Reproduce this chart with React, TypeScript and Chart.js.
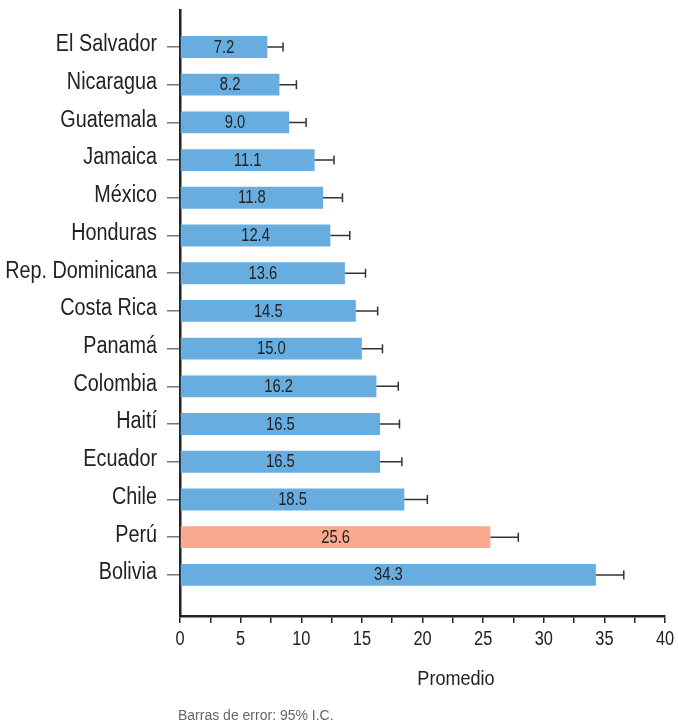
import React, { useEffect, useRef } from "react";
import { Chart, registerables } from "chart.js";

Chart.register(...registerables);

const countries = [
  "El Salvador",
  "Nicaragua",
  "Guatemala",
  "Jamaica",
  "México",
  "Honduras",
  "Rep. Dominicana",
  "Costa Rica",
  "Panamá",
  "Colombia",
  "Haití",
  "Ecuador",
  "Chile",
  "Perú",
  "Bolivia",
];
const values = [7.2, 8.2, 9.0, 11.1, 11.8, 12.4, 13.6, 14.5, 15.0, 16.2, 16.5, 16.5, 18.5, 25.6, 34.3];
const upperCI = [8.5, 9.6, 10.4, 12.7, 13.4, 14.0, 15.3, 16.3, 16.7, 18.0, 18.1, 18.3, 20.4, 27.9, 36.6];
const highlighted = ["Perú"];
const xTickValues = [0, 5, 10, 15, 20, 25, 30, 35, 40];

const BLUE = "#68ADE0";
const SALMON = "#F9AA8E";
const FONT = '"Liberation Sans", Arial, sans-serif';

function drawText(
  ctx: CanvasRenderingContext2D,
  text: string,
  x: number,
  y: number,
  size: number,
  scaleX: number,
  align: CanvasTextAlign,
  baseline: CanvasTextBaseline,
  color: string
) {
  ctx.save();
  ctx.translate(x, y);
  ctx.scale(scaleX, 1);
  ctx.font = `${size}px ${FONT}`;
  ctx.fillStyle = color;
  ctx.textAlign = align;
  ctx.textBaseline = baseline;
  ctx.fillText(text, 0, 0);
  ctx.restore();
}

const overlayPlugin = {
  id: "overlay",
  afterDatasetsDraw(chart: any) {
    const ctx = chart.ctx;
    const meta = chart.getDatasetMeta(0);
    const xScale = chart.scales.x;
    ctx.save();
    ctx.strokeStyle = "#333";
    ctx.lineWidth = 1.5;
    meta.data.forEach((el: any, i: number) => {
      const xEnd = el.x;
      const xHi = xScale.getPixelForValue(upperCI[i]);
      ctx.beginPath();
      ctx.moveTo(xEnd, el.y);
      ctx.lineTo(xHi, el.y);
      ctx.moveTo(xHi, el.y - 4.5);
      ctx.lineTo(xHi, el.y + 4.5);
      ctx.stroke();
    });
    ctx.restore();
    meta.data.forEach((el: any, i: number) => {
      drawText(ctx, values[i].toFixed(1), (el.base + el.x) / 2, el.y + 0.5, 18.5, 0.8, "center", "middle", "#222");
    });
  },
  afterDraw(chart: any) {
    const ctx = chart.ctx;
    const yScale = chart.scales.y;
    const xScale = chart.scales.x;
    countries.forEach((c, i) => {
      drawText(ctx, c, 157, yScale.getPixelForValue(i) - 2, 23, 0.86, "right", "middle", "#222");
    });
    xTickValues.forEach((v) => {
      drawText(ctx, String(v), xScale.getPixelForValue(v), 640, 19.5, 0.84, "center", "middle", "#222");
    });
    drawText(ctx, "Promedio", 456, 685, 21, 0.86, "center", "alphabetic", "#222");
    drawText(ctx, "Barras de error: 95% I.C.", 178, 720, 14, 1, "left", "alphabetic", "#666");
  },
};

export default function App() {
  const canvasRef = useRef<HTMLCanvasElement | null>(null);

  useEffect(() => {
    if (!canvasRef.current) return;
    const chart = new Chart(canvasRef.current, {
      type: "bar",
      data: {
        datasets: [
          {
            data: countries.map((c, i) => ({ x: values[i], y: i })),
            backgroundColor: countries.map((c) => (highlighted.includes(c) ? SALMON : BLUE)),
            borderWidth: 0,
            barPercentage: 0.58,
            categoryPercentage: 1,
          },
        ],
      },
      options: {
        indexAxis: "y",
        responsive: false,
        animation: false,
        layout: { padding: { top: 10, right: 13, bottom: 0, left: 0 } },
        plugins: {
          legend: { display: false },
          tooltip: { enabled: false },
        },
        scales: {
          y: {
            type: "linear",
            reverse: true,
            offset: false,
            min: -0.98,
            max: 15.09,
            afterBuildTicks: (scale: any) => {
              scale.ticks = countries.map((_, i) => ({ value: i }));
            },
            afterFit: (scale: any) => {
              scale.width = 180;
            },
            ticks: {
              autoSkip: false,
              callback: () => "",
              padding: 0,
            },
            grid: {
              offset: false,
              drawOnChartArea: false,
              drawTicks: true,
              tickLength: 13,
              color: "#777",
              lineWidth: 1.5,
            },
            border: { color: "#222", width: 2.5 },
          },
          x: {
            type: "linear",
            min: 0,
            max: 40,
            offset: false,
            afterBuildTicks: (scale: any) => {
              const t: any[] = [];
              for (let v = 0; v <= 40; v += 2.5) t.push({ value: v });
              scale.ticks = t;
            },
            afterFit: (scale: any) => {
              scale.height = 108;
            },
            ticks: {
              autoSkip: false,
              maxRotation: 0,
              callback: () => "",
              padding: 0,
            },
            grid: {
              offset: false,
              drawOnChartArea: false,
              drawTicks: true,
              tickLength: 7,
              color: "#222",
              lineWidth: 1.5,
            },
            border: { color: "#222", width: 2.5 },
          },
        },
      },
      plugins: [overlayPlugin],
    } as any);
    return () => chart.destroy();
  }, []);

  return (
    <div style={{ position: "absolute", left: 0, top: 0, width: 678, height: 724, background: "#fff" }}>
      <canvas ref={canvasRef} width={678} height={724} style={{ display: "block" }} />
    </div>
  );
}
